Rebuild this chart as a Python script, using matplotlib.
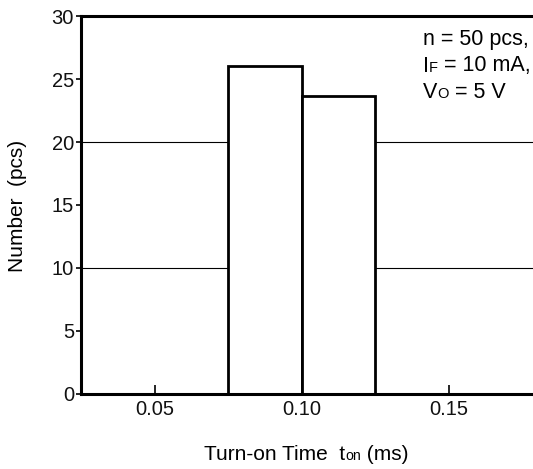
import matplotlib
matplotlib.use("Agg")
import matplotlib.pyplot as plt

# Data
bin_edges = [0.075, 0.100, 0.125]
counts = [26.1, 23.7]
grid_levels = [10, 20]
xticks = [0.05, 0.10, 0.15]
xticklabels = ["0.05", "0.10", "0.15"]
yticks = [0, 5, 10, 15, 20, 25, 30]

plt.rcParams['font.family'] = ['Liberation Sans', 'DejaVu Sans']
FS = 14.5
FS_LAB = 15
FS_ANN = 15.5
W, H = 533, 469
fig = plt.figure(figsize=(W / 100, H / 100), dpi=100)

x0, x1 = 0.025, 0.18
left_px, top_px, bottom_px = 81, 16.5, 393.5
px_per_unit = 147 / 0.05
right_px = left_px + (x1 - x0) * px_per_unit
ax = fig.add_axes([left_px / W, 1 - bottom_px / H, (right_px - left_px) / W, (bottom_px - top_px) / H])
ax.set_xlim(x0, x1)
ax.set_ylim(0, 30)

for g in grid_levels:
    ax.axhline(g, color='black', lw=0.8, zorder=1)

widths = [bin_edges[i + 1] - bin_edges[i] for i in range(len(counts))]
ax.bar(bin_edges[:-1], counts, width=widths, align='edge', facecolor='white',
       edgecolor='black', linewidth=2.0, zorder=2)

for s in ['left', 'bottom', 'top']:
    ax.spines[s].set_linewidth(2.2)
ax.spines['right'].set_visible(False)

ax.set_xticks(xticks)
ax.set_xticklabels(xticklabels)
ax.set_yticks(yticks)
ax.tick_params(axis='x', direction='in', length=6.5, width=1.2, pad=5, labelsize=FS)
ax.tick_params(axis='y', direction='out', length=3.5, width=1.2, pad=1.5, labelsize=FS)
for lbl in ax.get_xticklabels() + ax.get_yticklabels():
    lbl.set_color('#111111')

fig.text(18 / W, 1 - 206 / H, "Number  (pcs)", rotation=90, ha='center', va='center', fontsize=FS_LAB)

renderer = fig.canvas.get_renderer()

def rich_line(x_px, base_px, pieces, ha='left'):
    # pieces: list of (text, size)
    widths_ = []
    texts = []
    for t, s in pieces:
        tx = fig.text(0, 0, t, fontsize=s, va='baseline', ha='left')
        bb = tx.get_window_extent(renderer=renderer)
        widths_.append(bb.width)
        texts.append(tx)
    total = sum(widths_)
    if ha == 'center':
        x = x_px - total / 2
    else:
        x = x_px
    for tx, w in zip(texts, widths_):
        tx.set_position((x / W, 1 - base_px / H))
        x += w

rich_line(306, 460, [("Turn-on Time  t", FS_LAB), ("on", FS_LAB * 0.68), (" (ms)", FS_LAB)], ha='center')

ann_x = 423
rich_line(ann_x, 44.5, [("n = 50 pcs,", FS_ANN)])
rich_line(ann_x, 71.5, [("I", FS_ANN), ("F", FS_ANN * 0.68), (" = 10 mA,", FS_ANN)])
rich_line(ann_x, 98, [("V", FS_ANN), ("O", FS_ANN * 0.68), (" = 5 V", FS_ANN)])

fig.savefig("out.png", dpi=100)
